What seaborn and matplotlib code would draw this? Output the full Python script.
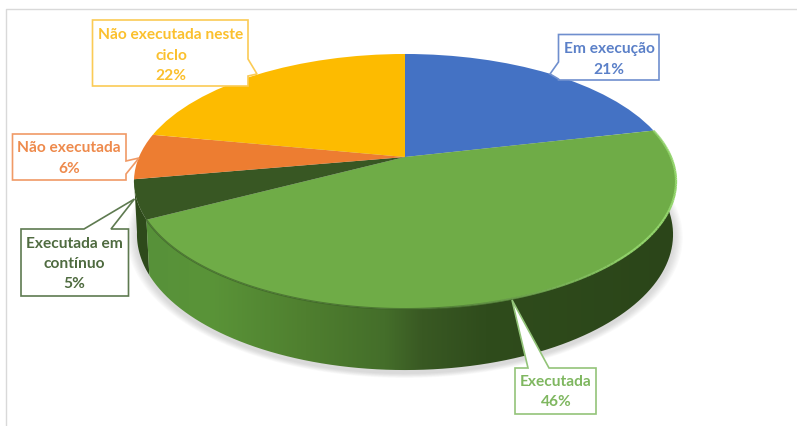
import numpy as np
import matplotlib
matplotlib.use('Agg')
import matplotlib.pyplot as plt
from matplotlib.collections import LineCollection
from matplotlib.colors import LinearSegmentedColormap
from matplotlib.patches import PathPatch
from matplotlib.path import Path
from matplotlib.transforms import Transform
import seaborn as sns

labels = ['Em execução', 'Executada', 'Executada em\ncontínuo', 'Não executada', 'Não executada neste\nciclo']
values = [21.4, 45.9, 4.9, 5.8, 22.0]
colors = ['#4472c4', '#6fac47', '#385723', '#ed7d31', '#fdbb00']
text_colors = ['#5b80c8', '#7fb760', '#4f6b40', '#ee8a4c', '#fbc02d']
edge_colors = ['#6f8fce', '#93c479', '#5e7a50', '#f09a66', '#fbcb55']

sns.set_theme(style='white')
plt.rcParams['font.family'] = ['Lato', 'DejaVu Sans']

CX, CY = 405, 158   # apex of the pie in pixels
A, C, K = 266, 122.8, 0.192


# flat pie -> perspective view
class PieView(Transform):
    input_dims = 2
    output_dims = 2

    def transform_non_affine(self, xy):
        xy = np.asarray(xy, dtype=float)
        w = 1 + K * xy[:, 1]
        return np.column_stack([CX + A * xy[:, 0] / w, CY - C * xy[:, 1] / w])


view = PieView()


def rim(theta):
    t = np.radians(theta)
    return view.transform_non_affine(np.column_stack([np.cos(t), np.sin(t)]))


# lower edge of the side wall
def lower(pts):
    out = pts.copy()
    out[:, 0] = 405 + (pts[:, 0] - 405) * 268 / 271
    out[:, 1] = 235 + (pts[:, 1] - 182) * 135 / 127
    return out


fig, ax = plt.subplots(figsize=(7.97, 4.27), dpi=100)
fig.subplots_adjust(0, 0, 1, 1)

wedges, _ = ax.pie(values, colors=sns.color_palette(colors), startangle=90, counterclock=False, radius=1)
for w in wedges:
    w.set_transform(view + ax.transData)
    w.set_zorder(5)
    w.set_linewidth(0)

# soft shadow under the pie
circle = rim(np.linspace(0, 360, 300))
for grow in range(1, 9):
    shadow = lower(circle) + np.array([0, 3])
    shadow = np.array([405, 238]) + (shadow - np.array([405, 238])) * (1 + grow * 0.0045)
    ax.fill(shadow[:, 0], shadow[:, 1], color='#808080', alpha=0.04, lw=0, zorder=1)

# side walls
wall_cmap = LinearSegmentedColormap.from_list('wall', [
    (0, '#57913a'), (0.12, '#5a9438'), (0.3, '#4f7f2f'), (0.45, '#446e2a'), (0.52, '#395923'), (0.64, '#2f4c1c'), (1, '#2b4519')])
green = wedges[1]
dark = wedges[2]

th = np.linspace(green.theta1, green.theta2, 200)
top = rim(th)
poly = np.vstack([top, lower(top)[::-1]])
img = ax.imshow(np.linspace(0, 1, 256)[None, :], extent=(146, 677, 400, 100), cmap=wall_cmap, aspect='auto', zorder=3)
img.set_clip_path(PathPatch(Path(poly), transform=ax.transData))

th = np.linspace(dark.theta1, dark.theta2, 40)
top = rim(th)
poly = np.vstack([top, lower(top)[::-1]])
ax.fill(poly[:, 0], poly[:, 1], color='#2e4a1b', lw=0, zorder=2)

# soft dark edge on the right part of the big slice
th = np.linspace(green.theta1, green.theta1 + 105, 100)
edge = rim(th)
ax.plot(edge[:, 0], edge[:, 1], color='#3d6327', lw=1.4, alpha=0.7, zorder=6)

# bright bevel along the front left edge, fading at both ends
th = np.linspace(green.theta2, green.theta2 - 100, 100)
edge = rim(th)
segs = np.stack([edge[:-1], edge[1:]], axis=1)
fade = np.clip(np.sin(np.linspace(0.25, 1, 99) * np.pi) * 1.1, 0, 1)
line_colors = np.tile(matplotlib.colors.to_rgba('#93d56c'), (99, 1))
line_colors[:, 3] = fade
ax.add_collection(LineCollection(segs, colors=line_colors, linewidths=1.6, zorder=6))

# callouts, box + pointer outline
callouts = [
    [(558.5, 35.5), (659, 35.5), (659, 81), (558.5, 81), (558.5, 80), (550, 75), (558.5, 63)],
    [(515, 369), (528, 369), (512, 301), (549, 369), (596, 369), (596, 415), (515, 415)],
    [(21, 230), (84, 230), (134.5, 200), (111, 230), (128.5, 230), (128.5, 297), (21, 297)],
    [(12.5, 135), (126, 135), (126, 162), (139, 159), (126, 175), (126, 181), (12.5, 181)],
    [(92.5, 21), (248, 21), (248, 60), (257, 75), (248, 77), (248, 87), (92.5, 87)],
]
text_pos = [(609, 59.5), (556, 392), (74, 264), (69, 158.5), (171, 55.5)]

for i in range(len(values)):
    xs, ys = zip(*callouts[i])
    ax.fill(xs, ys, facecolor='white', edgecolor=edge_colors[i], lw=1.2, zorder=8)
    ax.text(text_pos[i][0], text_pos[i][1], f'{labels[i]}\n{values[i]:.0f}%', color=text_colors[i],
            ha='center', va='center', ma='center', fontsize=11.2, fontweight='bold', linespacing=1.56, zorder=9)

# chart frame
ax.plot([6.5, 6.5, 797], [427, 9.5, 9.5], color='#d9d9d9', lw=1, zorder=0)

ax.set_aspect('auto')
ax.set_xlim(0, 797)
ax.set_ylim(427, 0)
ax.axis('off')

plt.savefig('out.png', dpi=100)
